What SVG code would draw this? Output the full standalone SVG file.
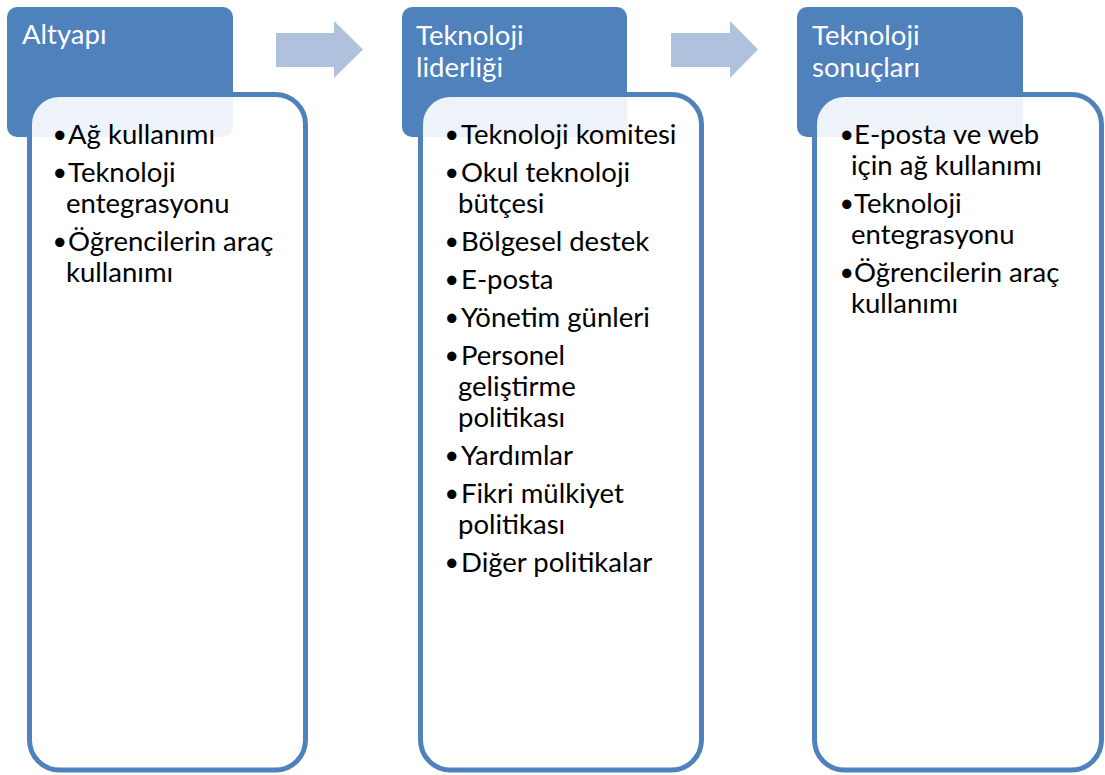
<svg xmlns="http://www.w3.org/2000/svg" width="1105" height="775" viewBox="0 0 1105 775">
<style>
.hdr{fill:#4f81bd}
.box{fill:#ffffff;fill-opacity:0.9;stroke:#4f81bd;stroke-width:5}
.arr{fill:#b0c1dd}
.ht{font-family:Lato,"Liberation Sans",sans-serif;font-size:27.5px;fill:#ffffff}
.bt{font-family:Lato,"Liberation Sans",sans-serif;font-size:27.5px;fill:#000000}
.bu{font-size:25px}
</style>
<rect width="1105" height="775" fill="#ffffff"/>
<g id="connectors">
<polygon class="arr" points="276,33 334,33 334,21 363,49.5 334,78 334,67 276,67"/>
<polygon class="arr" points="671,33 730,33 730,21 758,49.5 730,78 730,67 671,67"/>
</g>
<g id="node-altyapi">
<rect class="hdr" x="7" y="7" width="226" height="130" rx="10"/>
<text class="ht" x="22" y="44">Altyapı</text>
<rect class="box" x="29.5" y="94.5" width="276" height="675.5" rx="30"/>
<g class="bt">
<text class="bu" x="52.5" y="143">•</text><text x="68" y="143.5">Ağ kullanımı</text>
<text class="bu" x="52.5" y="181">•</text><text x="68" y="181.5">Teknoloji</text>
<text x="66" y="212.5">entegrasyonu</text>
<text class="bu" x="52.5" y="250">•</text><text x="68" y="250.5">Öğrencilerin araç</text>
<text x="66" y="281.5">kullanımı</text>
</g>
</g>
<g id="node-liderlik">
<rect class="hdr" x="402" y="7" width="225" height="130" rx="10"/>
<text class="ht" x="416" y="45">Teknoloji</text>
<text class="ht" x="416" y="77">liderliği</text>
<rect class="box" x="420.5" y="94.5" width="281" height="675.5" rx="30"/>
<g class="bt">
<text class="bu" x="444.5" y="143">•</text><text x="461" y="143.5">Teknoloji komitesi</text>
<text class="bu" x="444.5" y="181">•</text><text x="461" y="181.5">Okul teknoloji</text>
<text x="458" y="212.5">bütçesi</text>
<text class="bu" x="444.5" y="250">•</text><text x="461" y="250.5">Bölgesel destek</text>
<text class="bu" x="444.5" y="288">•</text><text x="461" y="288.5">E-posta</text>
<text class="bu" x="444.5" y="326">•</text><text x="461" y="326.5">Yönetim günleri</text>
<text class="bu" x="444.5" y="364">•</text><text x="461" y="364.5">Personel</text>
<text x="458" y="395.5">geliştirme</text>
<text x="458" y="426.5">politikası</text>
<text class="bu" x="444.5" y="464">•</text><text x="461" y="464.5">Yardımlar</text>
<text class="bu" x="444.5" y="502">•</text><text x="461" y="502.5">Fikri mülkiyet</text>
<text x="458" y="533.5">politikası</text>
<text class="bu" x="444.5" y="571">•</text><text x="461" y="571.5">Diğer politikalar</text>
</g>
</g>
<g id="node-sonuclar">
<rect class="hdr" x="797" y="7" width="226" height="130" rx="10"/>
<text class="ht" x="812" y="45">Teknoloji</text>
<text class="ht" x="812" y="77">sonuçları</text>
<rect class="box" x="814.5" y="94.5" width="287" height="675.5" rx="30"/>
<g class="bt">
<text class="bu" x="839.5" y="143">•</text><text x="854" y="143.5">E-posta ve web</text>
<text x="851" y="174.5">için ağ kullanımı</text>
<text class="bu" x="839.5" y="212">•</text><text x="854" y="212.5">Teknoloji</text>
<text x="851" y="243.5">entegrasyonu</text>
<text class="bu" x="839.5" y="281">•</text><text x="854" y="281.5">Öğrencilerin araç</text>
<text x="851" y="312.5">kullanımı</text>
</g>
</g>
</svg>
